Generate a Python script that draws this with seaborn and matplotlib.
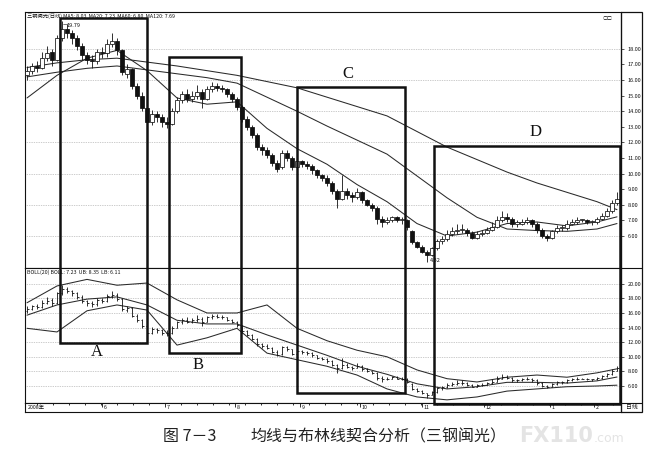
import numpy as np
import pandas as pd
import matplotlib
matplotlib.use("Agg")
import matplotlib.pyplot as plt
import seaborn as sns
from matplotlib.patches import Rectangle
from matplotlib.lines import Line2D

# ---------------- data ----------------
opens = [16.3,16.6,16.9,16.8,17.4,17.8,17.3,18.7,19.3,19.0,
         18.7,18.2,17.6,17.3,17.2,17.8,17.7,18.3,18.5,17.9,
         16.4,16.7,15.6,15.0,14.2,13.3,13.8,13.6,13.3,13.2,
         14.0,14.7,15.1,14.8,15.0,15.2,14.8,15.4,15.6,15.5,
         15.4,15.1,14.8,14.3,13.5,13.0,12.5,11.7,11.5,11.2,
         10.7,10.4,11.3,11.0,10.4,10.8,10.6,10.5,10.2,9.9,
         9.7,9.4,8.9,8.4,8.9,8.6,8.5,8.8,8.3,8.0,
         7.8,7.1,6.9,7.0,7.2,7.0,7.0,6.3,5.6,5.3,
         5.0,4.8,5.2,5.7,5.8,6.1,6.3,6.4,6.4,6.2,
         5.9,6.1,6.2,6.4,6.6,7.0,7.2,7.1,6.8,6.8,
         6.9,7.0,6.8,6.4,6.0,5.9,6.3,6.5,6.5,6.8,
         6.9,7.0,7.0,6.9,6.9,7.1,7.3,7.6,8.1]
closes = [16.6,16.9,16.8,17.4,17.7,17.3,18.7,19.3,19.0,18.7,
          18.2,17.6,17.3,17.2,17.8,17.7,18.3,18.5,17.9,16.5,
          16.7,15.6,15.0,14.2,13.3,13.8,13.6,13.3,13.2,14.0,
          14.7,15.1,14.8,15.0,15.2,14.8,15.4,15.6,15.5,15.4,
          15.1,14.8,14.3,13.5,13.0,12.5,11.7,11.5,11.2,10.7,
          10.3,11.3,11.0,10.4,10.8,10.6,10.5,10.2,9.9,9.7,
          9.4,8.9,8.4,8.9,8.6,8.5,8.8,8.3,8.0,7.8,
          7.1,6.9,7.0,7.2,7.0,7.0,6.6,5.6,5.3,5.0,
          4.8,5.2,5.7,5.8,6.1,6.3,6.4,6.4,6.2,5.9,
          6.1,6.2,6.4,6.6,7.0,7.2,7.1,6.8,6.8,6.9,
          7.0,6.8,6.4,6.0,5.9,6.3,6.5,6.5,6.8,6.9,
          7.0,7.0,6.9,6.9,7.1,7.3,7.6,8.1,8.4]
highs = [16.9,17.1,17.2,17.8,18.2,18.0,18.9,19.79,19.6,19.2,
         18.9,18.4,17.8,17.6,18.0,18.1,18.6,19.0,18.7,18.0,
         17.0,16.8,15.8,15.2,14.4,14.1,14.0,13.8,13.6,14.2,
         14.9,15.3,15.4,15.3,15.7,15.4,15.6,15.9,15.8,15.7,
         15.5,15.2,14.9,14.4,13.7,13.1,12.6,11.9,11.7,11.3,
         10.9,11.5,11.5,11.1,11.0,10.9,10.8,10.6,10.3,10.0,
         9.9,9.5,9.0,9.9,9.1,8.8,9.1,8.9,8.4,8.1,
         7.9,7.3,7.2,7.3,7.3,7.2,7.1,6.4,5.7,5.4,
         5.1,5.3,5.8,6.0,6.4,6.6,6.8,6.8,6.5,6.3,
         6.3,6.4,6.6,6.9,7.3,7.6,7.5,7.2,7.0,7.1,
         7.2,7.1,6.9,6.5,6.1,6.4,6.7,6.7,7.0,7.1,
         7.2,7.1,7.1,7.0,7.2,7.5,7.8,8.3,8.8]
lows = [16.0,16.4,16.5,16.7,17.2,16.9,17.2,18.5,18.7,18.3,
        17.9,17.3,17.0,16.8,17.0,17.4,17.5,18.1,17.6,16.3,
        16.1,15.4,14.8,14.0,13.0,13.1,13.3,13.0,12.9,13.1,
        13.9,14.5,14.6,14.6,14.8,14.2,14.7,15.2,15.3,15.2,
        14.9,14.6,14.1,13.3,12.8,12.3,11.5,11.2,11.0,10.5,
        10.1,10.3,10.8,10.2,10.3,10.4,10.3,10.0,9.7,9.5,
        9.2,8.7,7.8,8.3,8.4,8.2,8.4,8.1,7.9,7.6,
        6.8,6.6,6.8,6.9,6.9,6.8,6.4,5.5,5.2,4.9,
        4.32,4.7,5.1,5.5,5.7,6.0,6.1,6.2,6.0,5.8,
        5.8,6.0,6.1,6.3,6.5,6.9,6.9,6.6,6.6,6.7,
        6.8,6.6,6.2,5.9,5.7,5.8,6.2,6.3,6.4,6.7,
        6.8,6.9,6.8,6.7,6.8,7.0,7.2,7.5,8.0]

ma_idx = [0,6,12,18,24,30,36,42,48,54,60,66,72,78,84,90,96,102,108,114,118]
ma120 = [16.8,17.1,17.3,17.4,17.15,16.9,16.6,16.3,15.9,15.5,14.9,14.3,13.7,12.7,11.7,10.9,10.1,9.4,8.8,8.2,7.69]
ma60 = [16.2,16.5,16.75,16.9,16.65,16.4,16.15,15.8,14.9,14.0,13.05,12.15,11.25,9.85,8.45,7.2,6.45,6.35,6.3,6.45,6.8]
ma20 = [14.85,16.3,17.4,17.9,16.6,14.85,14.45,14.6,12.9,11.6,10.6,9.3,8.2,6.8,6.0,6.25,6.8,6.9,6.65,6.9,7.23]

boll_ub = [17.4,19.7,20.6,19.8,20.1,17.8,16.0,16.0,17.1,13.9,12.2,10.9,10.0,8.2,7.0,6.55,7.2,7.5,7.2,7.8,8.35]
boll_mid = [15.7,17.1,17.9,18.2,17.1,15.0,14.5,14.5,13.0,11.6,10.2,8.7,7.6,6.3,5.6,5.9,6.5,6.5,6.4,6.7,7.23]
boll_lb = [13.9,13.4,16.3,17.1,16.4,11.6,12.6,13.9,10.5,9.6,8.7,7.5,5.6,4.5,4.1,4.5,5.3,5.6,5.9,6.0,6.11]

month_labels = ["2008年", "6", "7", "8", "9", "10", "11", "12", "1", "2"]
month_pos = [-0.2, 15.0, 27.6, 41.6, 54.6, 66.6, 79.0, 91.4, 104.6, 113.4]

top_ticks = [18, 17, 16, 15, 14, 13, 12, 11, 10, 9, 8, 7, 6]
top_grid = [18, 16, 14, 12, 10, 8, 6]
bot_ticks = [20, 18, 16, 14, 12, 10, 8, 6]

# ---------------- layout helpers ----------------
W, H = 658, 458
def fx(x): return x / W
def fy(y): return 1 - y / H

sns.set_theme(style="white")
plt.rcParams['font.family'] = ['Noto Sans CJK SC', 'DejaVu Sans']

fig = plt.figure(figsize=(6.58, 4.58), dpi=100)
fig.patch.set_facecolor("white")
L, R = 25, 621
ax1 = fig.add_axes([fx(L), fy(268), fx(R) - fx(L), fy(12) - fy(268)])
ax2 = fig.add_axes([fx(L), fy(403), fx(R) - fx(L), fy(268) - fy(403)])
ax3 = fig.add_axes([fx(L), fy(412), fx(R) - fx(L), fy(403) - fy(412)])

df = pd.DataFrame(dict(i=np.arange(len(closes)), o=opens, h=highs, l=lows, c=closes))
ma = pd.DataFrame(dict(i=ma_idx, ma120=ma120, ma60=ma60, ma20=ma20,
                       ub=boll_ub, mid=boll_mid, lb=boll_lb))

xlim = (-0.4, 118.8)
ink = "#111111"

# ---------------- top panel: candles + MAs ----------------
for v in top_grid:
    ax1.axhline(v, color="#9a9a9a", lw=0.5, ls=(0, (1, 1.5)), zorder=1)
up = df.c >= df.o
bb = np.minimum(df.o, df.c)
bh = np.maximum((df.c - df.o).abs(), 0.07)
ax1.vlines(df.i, df.l, df.h, color=ink, lw=0.6, zorder=3)
ax1.bar(df.i[up], bh[up], bottom=bb[up], width=0.62, color="white",
        edgecolor=ink, linewidth=0.55, zorder=4)
ax1.bar(df.i[~up], bh[~up], bottom=bb[~up], width=0.62, color=ink,
        edgecolor=ink, linewidth=0.55, zorder=4)
for col in ["ma120", "ma60", "ma20"]:
    sns.lineplot(data=ma, x="i", y=col, ax=ax1, color="#2a2a2a", lw=0.75,
                 legend=False, zorder=2)

ax1.set_xlim(*xlim)
ax1.set_ylim(3.95, 20.36)
ax1.yaxis.tick_right()
ax1.set_yticks(top_ticks)
ax1.set_yticklabels([f"{v:.2f}" for v in top_ticks])
ax1.set_xticks([])
ax1.set_xlabel("")
ax1.set_ylabel("")
ax1.tick_params(axis="y", labelsize=4, length=2, width=0.5, pad=3,
                direction="out", colors=ink)

ax1.text(0.003, 0.993, "三钢闽光(日线) MA5: 8.03  MA20: 7.23  MA60: 6.80  MA120: 7.69",
         transform=ax1.transAxes, fontsize=3.8, va="top", ha="left", color=ink)
ax1.plot([7.2, 7.9], [19.6, 19.6], color=ink, lw=0.4)
ax1.text(8.0, 19.5, "19.79", fontsize=4, va="center", ha="left", color=ink)
ax1.text(80.6, 4.45, "4.32", fontsize=4, va="center", ha="left", color=ink)
ax1.text(0.985, 0.985, "○□", transform=ax1.transAxes, fontsize=3.5,
         va="top", ha="right", color=ink)

# ---------------- bottom panel: BOLL ----------------
for v in bot_ticks:
    ax2.axhline(v, color="#9a9a9a", lw=0.5, ls=(0, (1, 1.5)), zorder=1)
ax2.vlines(df.i, df.l, df.h, color=ink, lw=0.6, zorder=3)
ax2.hlines(df.o, df.i - 0.3, df.i, color=ink, lw=0.6, zorder=3)
ax2.hlines(df.c, df.i, df.i + 0.3, color=ink, lw=0.6, zorder=3)
for col in ["ub", "mid", "lb"]:
    sns.lineplot(data=ma, x="i", y=col, ax=ax2, color="#2a2a2a", lw=0.75,
                 legend=False, zorder=2)
ax2.set_xlim(*xlim)
ax2.set_ylim(3.67, 22.16)
ax2.yaxis.tick_right()
ax2.set_yticks(bot_ticks)
ax2.set_yticklabels([f"{v:.2f}" for v in bot_ticks])
ax2.set_xticks([])
ax2.set_xlabel("")
ax2.set_ylabel("")
ax2.tick_params(axis="y", labelsize=4, length=2, width=0.5, pad=3,
                direction="out", colors=ink)
ax2.text(0.003, 0.985, "BOLL(20) BOLL: 7.23  UB: 8.35  LB: 6.11",
         transform=ax2.transAxes, fontsize=3.8, va="top", ha="left", color=ink)

# ---------------- date strip ----------------
ax3.set_xlim(*xlim)
ax3.set_ylim(0, 1)
ax3.set_yticks([])
ax3.xaxis.set_ticks_position("top")
ax3.set_xticks(month_pos[1:])
ax3.set_xticks(np.arange(2, 118, 3.2), minor=True)
ax3.tick_params(axis="x", which="major", direction="in", length=3, width=0.6,
                labeltop=False, labelbottom=False, colors=ink)
ax3.tick_params(axis="x", which="minor", direction="in", length=1.3, width=0.6,
                colors=ink)
for lab, p in zip(month_labels, month_pos):
    ax3.text(p + 0.3, 0.45, lab, fontsize=3.8, va="center", ha="left", color=ink)

for a in (ax1, ax2, ax3):
    for s in a.spines.values():
        s.set_color(ink)
        s.set_linewidth(0.8)

# right label column and outer frame
fig.add_artist(Rectangle((fx(R), fy(412)), fx(642) - fx(R), fy(12) - fy(412),
                         transform=fig.transFigure, fill=False, ec=ink, lw=0.9))
for yy in (268, 403):
    fig.add_artist(Line2D([fx(R), fx(642)], [fy(yy), fy(yy)],
                          transform=fig.transFigure, color=ink, lw=0.8))
fig.text(fx(631.5), fy(407.5), "日线", fontsize=4.2, ha="center", va="center", color=ink)

# ---------------- annotation boxes A-D ----------------
boxes = {"A": (60, 18, 147, 343), "B": (169, 57, 241, 353),
         "C": (297, 87, 405, 393), "D": (434, 146, 620, 404)}
letters = {"A": (97, 352), "B": (198, 365), "C": (348, 74), "D": (536, 132)}
for k, (x0, y0, x1, y1) in boxes.items():
    fig.add_artist(Rectangle((fx(x0), fy(y1)), fx(x1) - fx(x0), fy(y0) - fy(y1),
                             transform=fig.transFigure, fill=False, ec=ink,
                             lw=1.8, zorder=10))
    lx, ly = letters[k]
    fig.text(fx(lx), fy(ly), k, family="Liberation Serif", fontsize=12,
             ha="center", va="center", color=ink)

# ---------------- caption + watermark ----------------
fig.text(fx(519), fy(436), "FX110", fontsize=15, weight="bold", color="#e4e4e4",
         ha="left", va="center", family="DejaVu Sans")
fig.text(fx(594), fy(439), ".com", fontsize=9, color="#e4e4e4",
         ha="left", va="center", family="DejaVu Sans")
fig.text(fx(163), fy(437), "图 7－3", fontsize=11.5, ha="left", va="center", color="#222222")
fig.text(fx(250), fy(437), "均线与布林线契合分析（三钢闽光）", fontsize=11.5,
         ha="left", va="center", color="#222222")

fig.savefig("out.png", dpi=100, facecolor="white")
